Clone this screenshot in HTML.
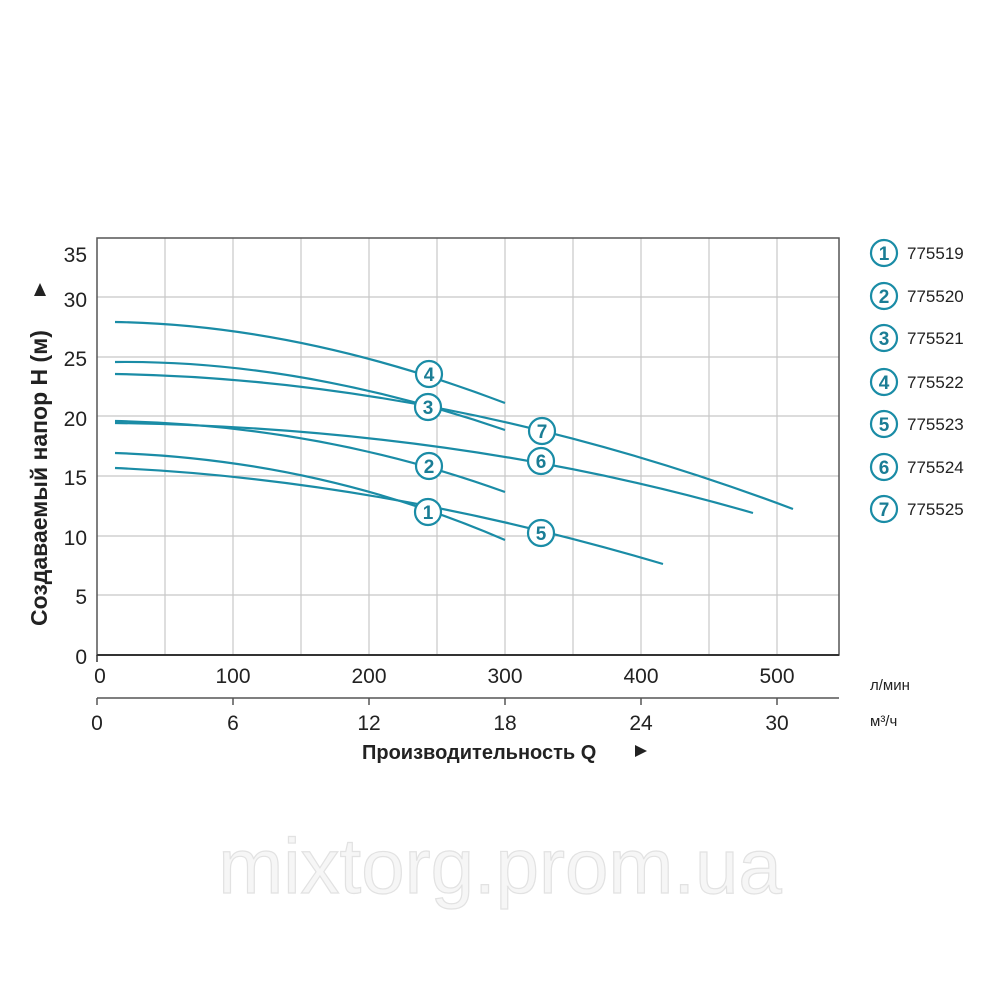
<!DOCTYPE html>
<html><head><meta charset="utf-8"><style>
body{margin:0;background:#fff;width:1000px;height:1000px;overflow:hidden}
svg{display:block;font-family:"Liberation Sans",Arial,sans-serif}
</style></head><body>
<svg width="1000" height="1000" viewBox="0 0 1000 1000">
<g stroke="#c8c8c8" stroke-width="1.2">
<line x1="165" y1="238" x2="165" y2="655"/><line x1="233" y1="238" x2="233" y2="655"/>
<line x1="301" y1="238" x2="301" y2="655"/><line x1="369" y1="238" x2="369" y2="655"/>
<line x1="437" y1="238" x2="437" y2="655"/><line x1="505" y1="238" x2="505" y2="655"/>
<line x1="573" y1="238" x2="573" y2="655"/><line x1="641" y1="238" x2="641" y2="655"/>
<line x1="709" y1="238" x2="709" y2="655"/><line x1="777" y1="238" x2="777" y2="655"/>
<line x1="97" y1="297" x2="839" y2="297"/><line x1="97" y1="357" x2="839" y2="357"/>
<line x1="97" y1="416" x2="839" y2="416"/><line x1="97" y1="476" x2="839" y2="476"/>
<line x1="97" y1="536" x2="839" y2="536"/><line x1="97" y1="595" x2="839" y2="595"/>
</g>
<rect x="97" y="238" width="742" height="417" fill="none" stroke="#555" stroke-width="1.5"/>
<line x1="97" y1="655" x2="839" y2="655" stroke="#333" stroke-width="2"/>
<line x1="97" y1="655" x2="97" y2="662" stroke="#333" stroke-width="1.5"/>
<line x1="97" y1="698" x2="839" y2="698" stroke="#555" stroke-width="1.5"/>
<g stroke="#555" stroke-width="1.5">
<line x1="97" y1="698" x2="97" y2="705"/><line x1="233" y1="698" x2="233" y2="705"/><line x1="369" y1="698" x2="369" y2="705"/><line x1="505" y1="698" x2="505" y2="705"/><line x1="641" y1="698" x2="641" y2="705"/><line x1="777" y1="698" x2="777" y2="705"/>
</g>
<g font-size="21" fill="#222" text-anchor="end">
<text x="87" y="262">35</text><text x="87" y="307">30</text><text x="87" y="366">25</text><text x="87" y="426">20</text><text x="87" y="485">15</text><text x="87" y="545">10</text><text x="87" y="604">5</text><text x="87" y="664">0</text>
</g>
<g font-size="21" fill="#222" text-anchor="middle">
<text x="100" y="683">0</text><text x="233" y="683">100</text><text x="369" y="683">200</text><text x="505" y="683">300</text><text x="641" y="683">400</text><text x="777" y="683">500</text>
<text x="97" y="730">0</text><text x="233" y="730">6</text><text x="369" y="730">12</text><text x="505" y="730">18</text><text x="641" y="730">24</text><text x="777" y="730">30</text>
</g>
<text x="870" y="690" font-size="15" fill="#222">л/мин</text>
<text x="870" y="726" font-size="15" fill="#222">м³/ч</text>
<text x="362" y="759" font-size="20" font-weight="bold" fill="#222">Производительность Q</text>
<path d="M635 745 L647 751 L635 757Z" fill="#222"/>
<text transform="translate(47,626) rotate(-90)" font-size="23" font-weight="bold" fill="#222">Создаваемый напор Н (м)</text>
<path d="M34 296 L40 283 L46 296Z" fill="#222"/>
<g fill="none" stroke="#1a8ca6" stroke-width="2.2">
<path d="M115 322 Q300 325 505 403"/>
<path d="M115 362 Q300 360 505 430"/>
<path d="M115 374 Q450 380 793 509"/>
<path d="M115 421 Q320 425 505 492"/>
<path d="M115 423 Q460 428 753 513"/>
<path d="M115 453 Q320 460 505 540"/>
<path d="M115 468 Q380 480 663 564"/>
</g>
<g font-size="19" font-weight="bold" fill="#1a7d95" text-anchor="middle">
<g stroke="#1a8ca6" stroke-width="2.2" fill="#fff">
<circle cx="429" cy="374" r="13"/><circle cx="428" cy="407" r="13"/><circle cx="542" cy="431" r="13"/>
<circle cx="429" cy="466" r="13"/><circle cx="541" cy="461" r="13"/><circle cx="428" cy="512" r="13"/><circle cx="541" cy="533" r="13"/>
<circle cx="884" cy="253" r="13"/><circle cx="884" cy="296" r="13"/><circle cx="884" cy="338" r="13"/><circle cx="884" cy="382" r="13"/><circle cx="884" cy="424" r="13"/><circle cx="884" cy="467" r="13"/><circle cx="884" cy="509" r="13"/>
</g>
<text x="429" y="381">4</text><text x="428" y="414">3</text><text x="542" y="438">7</text><text x="429" y="473">2</text><text x="541" y="468">6</text><text x="428" y="519">1</text><text x="541" y="540">5</text>
<text x="884" y="260">1</text><text x="884" y="303">2</text><text x="884" y="345">3</text><text x="884" y="389">4</text><text x="884" y="431">5</text><text x="884" y="474">6</text><text x="884" y="516">7</text>
</g>
<g font-size="17" fill="#222">
<text x="907" y="259">775519</text><text x="907" y="302">775520</text><text x="907" y="344">775521</text><text x="907" y="388">775522</text><text x="907" y="430">775523</text><text x="907" y="473">775524</text><text x="907" y="515">775525</text>
</g>
<text x="500" y="893" font-size="78" fill="#f6f6f6" stroke="#e2e2e2" stroke-width="1.2" text-anchor="middle">mixtorg.prom.ua</text>
</svg>
</body></html>
